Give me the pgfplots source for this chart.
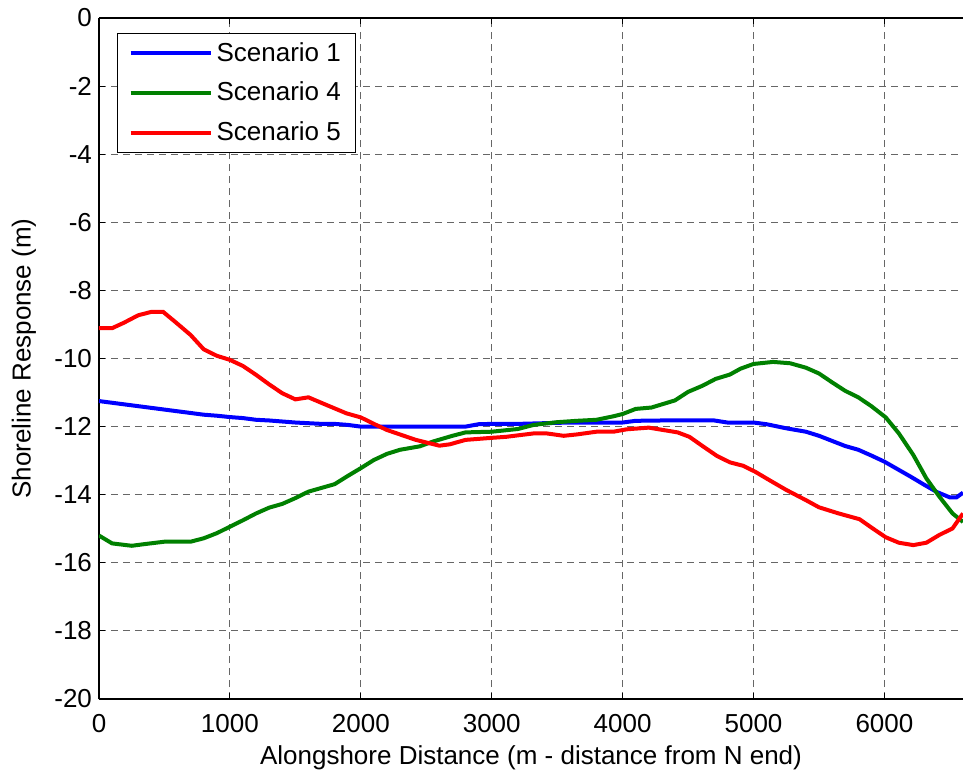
\documentclass[border=0pt]{standalone}
\usepackage{fontspec}
\setmainfont{Liberation Sans}
\usepackage{pgfplots}
\pgfplotsset{compat=1.18}

\newcommand{\chartfont}{\fontsize{13}{15.5}\selectfont}

\begin{document}
\begin{tikzpicture}
\begin{axis}[
  scale only axis,
  width=432pt, height=340.5pt,
  xmin=0, xmax=6600, ymin=-20, ymax=0,
  xtick={0,1000,...,6000},
  ytick={-20,-18,...,0},
  axis y line*=left,
  /pgf/number format/assume math mode=true,
  /pgf/number format/1000 sep={},
  scaled x ticks=false,
  tick label style={font=\chartfont},
  label style={font=\chartfont},
  xticklabel style={anchor=base, yshift=-16.5pt},
  xlabel={Alongshore Distance (m - distance from N end)},
  ylabel={Shoreline Response (m)},
  xlabel style={at={(axis description cs:0.5,-0.0969)}, anchor=base},
  ylabel style={at={(axis description cs:-0.0868,0.5)}, anchor=center, rotate=0},
  major tick length=3pt,
  tick style={black, line width=0.5pt},
  axis line style={black, line width=0.6pt},
  grid=major,
  grid style={black!60, line width=0.5pt, dash pattern=on 3.5pt off 2.5pt},
  legend style={at={(axis description cs:0.0208,0.9785)}, anchor=north west,
    draw=black, line width=0.6pt, font=\chartfont,
    inner xsep=5.5pt, inner ysep=2.5pt, row sep=5pt,
    nodes={inner sep=2pt}},
  legend cell align=left,
  legend image code/.code={\draw[#1] (0pt,0pt) -- (40pt,0pt);},
  every axis plot/.append style={line width=2pt},
]

% Scenario 1
\addplot[color=blue] coordinates {
(0,-11.25)(100,-11.3)(200,-11.35)(300,-11.4)(400,-11.45)(500,-11.5)(600,-11.55)
(700,-11.6)(800,-11.65)(900,-11.68)(1000,-11.72)(1100,-11.75)(1200,-11.8)(1300,-11.82)
(1400,-11.85)(1500,-11.88)(1600,-11.9)(1700,-11.92)(1800,-11.92)(1900,-11.95)(2000,-12.0)
(2200,-12.0)(2400,-12.0)(2600,-12.0)(2800,-12.0)(2900,-11.93)(3000,-11.92)(3200,-11.92)
(3400,-11.9)(3600,-11.88)(3800,-11.88)(4000,-11.88)(4100,-11.83)(4300,-11.82)(4500,-11.82)
(4700,-11.82)(4800,-11.88)(5000,-11.88)(5100,-11.93)(5250,-12.05)(5400,-12.15)(5500,-12.27)
(5600,-12.42)(5700,-12.57)(5800,-12.68)(5900,-12.85)(6000,-13.03)(6100,-13.25)(6200,-13.47)
(6300,-13.7)(6400,-13.92)(6500,-14.08)(6550,-14.08)(6600,-13.94)
};
\addlegendentry{Scenario 1}

% Scenario 4
\addplot[color={rgb,1:red,0;green,0.5;blue,0}] coordinates {
(0,-15.2)(100,-15.43)(250,-15.5)(350,-15.45)(500,-15.38)(700,-15.38)(800,-15.28)
(900,-15.13)(1000,-14.94)(1100,-14.75)(1200,-14.55)(1300,-14.38)(1400,-14.27)(1500,-14.1)
(1600,-13.91)(1700,-13.8)(1800,-13.69)(1900,-13.45)(2000,-13.22)(2100,-12.98)(2200,-12.8)
(2300,-12.68)(2450,-12.58)(2550,-12.44)(2700,-12.27)(2800,-12.17)(3000,-12.15)(3200,-12.07)
(3320,-11.95)(3500,-11.87)(3650,-11.83)(3800,-11.8)(3926,-11.7)(4000,-11.63)(4100,-11.48)
(4220,-11.44)(4400,-11.23)(4500,-10.98)(4610,-10.8)(4710,-10.6)(4820,-10.47)(4900,-10.3)
(5000,-10.16)(5150,-10.1)(5280,-10.14)(5400,-10.27)(5500,-10.44)(5600,-10.7)(5700,-10.95)
(5800,-11.14)(5900,-11.4)(6010,-11.73)(6110,-12.2)(6220,-12.83)(6320,-13.52)(6420,-14.06)
(6520,-14.55)(6600,-14.8)
};
\addlegendentry{Scenario 4}

% Scenario 5
\addplot[color=red] coordinates {
(0,-9.11)(100,-9.11)(190,-8.95)(300,-8.73)(400,-8.63)(490,-8.63)(590,-8.95)(700,-9.31)
(800,-9.73)(900,-9.92)(1000,-10.04)(1100,-10.22)(1200,-10.48)(1300,-10.76)(1400,-11.02)
(1500,-11.2)(1600,-11.14)(1710,-11.32)(1890,-11.61)(2000,-11.73)(2100,-11.92)(2200,-12.1)
(2420,-12.39)(2600,-12.56)(2680,-12.52)(2800,-12.39)(3000,-12.33)(3110,-12.3)(3320,-12.2)
(3420,-12.2)(3550,-12.27)(3650,-12.23)(3800,-12.15)(3930,-12.15)(4030,-12.08)(4200,-12.03)
(4420,-12.17)(4510,-12.3)(4610,-12.57)(4720,-12.86)(4820,-13.05)(4920,-13.15)(5010,-13.32)
(5120,-13.57)(5250,-13.86)(5400,-14.16)(5500,-14.37)(5650,-14.55)(5810,-14.72)(5910,-14.99)
(6010,-15.25)(6110,-15.41)(6220,-15.48)(6320,-15.41)(6420,-15.18)(6520,-14.99)(6600,-14.55)
};
\addlegendentry{Scenario 5}

\coordinate (sw) at (rel axis cs:0,0);
\coordinate (ne) at (rel axis cs:1,1);
\end{axis}
\pgfresetboundingbox
\path ([xshift=-49.5pt,yshift=-37pt]sw) rectangle ([yshift=9pt]ne);
\end{tikzpicture}
\end{document}
